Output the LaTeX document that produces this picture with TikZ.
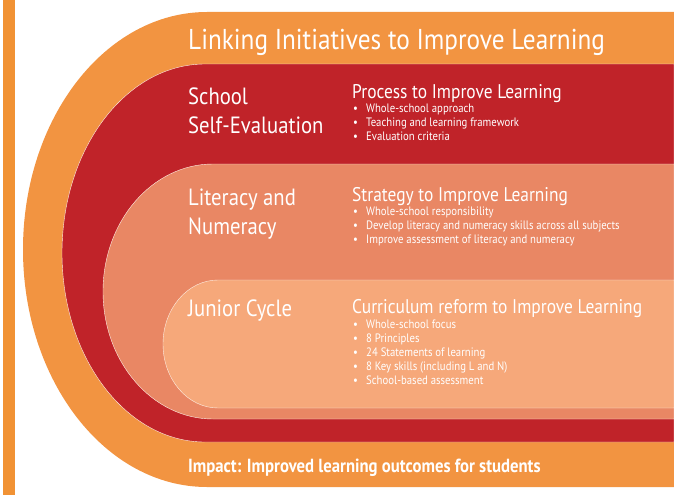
\documentclass[tikz,border=0pt]{standalone}
\usepackage{fontspec}
\setmainfont[FakeStretch=0.88]{PT Sans}
\usepackage{tikz}
\definecolor{ringorange}{RGB}{242,148,65}
\definecolor{stripe}{RGB}{241,146,52}
\definecolor{ringred}{RGB}{192,35,41}
\definecolor{ringsalmon}{RGB}{233,135,100}
\definecolor{ringpeach}{RGB}{246,168,122}
\tikzstyle{band} = [draw=white!80!ringpeach, line width=0.4pt]
\tikzstyle{bandtitle} = [anchor=base west, inner sep=0pt, text=white, font=\fontsize{28.7}{33}\selectfont]
\tikzstyle{bandname} = [anchor=base west, inner sep=0pt, text=white, align=left, font=\fontsize{23.5}{28.5}\selectfont]
\tikzstyle{heading} = [anchor=base west, inner sep=0pt, text=white, font=\fontsize{19.8}{22}\selectfont]
\tikzstyle{bullets} = [anchor=base west, inner sep=0pt, text=white, align=left, font=\fontsize{12.2}{14}\selectfont]
\tikzstyle{impact} = [anchor=base west, inner sep=0pt, text=white, font=\fontsize{19}{22}\selectfont\bfseries]
\newcommand{\blt}{\makebox[13pt][l]{\textbullet}}

\begin{document}
\begin{tikzpicture}[x=1pt, y=-1pt]

    \useasboundingbox (0,0) rectangle (674,495);

    % left stripe and the four bands
    \fill[stripe] (3,0) rectangle (15,495);

    \fill[ringorange] (674,12) -- (207,12) arc[start angle=270, end angle=90, x radius=184, y radius=237.5] -- (674,487) -- cycle;

    \filldraw[band, fill=ringred] (674,64) -- (205,64) arc[start angle=270, end angle=90, x radius=143, y radius=189] -- (674,442) -- cycle;

    \filldraw[band, fill=ringsalmon] (674,164) -- (213,164) arc[start angle=270, end angle=90, x radius=110, y radius=127.5] -- (674,419) -- cycle;

    \filldraw[band, fill=ringpeach] (674,280) -- (218,280) arc[start angle=270, end angle=90, x radius=55, y radius=64] -- (674,408) -- cycle;

    % texts (multi-line nodes sit on their last baseline)
    \node (title) [bandtitle] at (188,50) {Linking Initiatives to Improve Learning};

    \node (sse_name) [bandname] at (188,133) {School\\Self-Evaluation};

    \node (sse_head) [heading] at (352,98) {Process to Improve Learning};

    \node (sse_list) [bullets] at (353,140) {\blt Whole-school approach\\ \blt Teaching and learning framework\\ \blt Evaluation criteria};

    \node (lit_name) [bandname] at (188,234) {Literacy and\\Numeracy};

    \node (lit_head) [heading] at (352,201) {Strategy to Improve Learning};

    \node (lit_list) [bullets] at (353,243) {\blt Whole-school responsibility\\ \blt Develop literacy and numeracy skills across all subjects\\ \blt Improve assessment of literacy and numeracy};

    \node (jc_name) [bandname] at (188,316) {Junior Cycle};

    \node (jc_head) [heading] at (352,313) {Curriculum reform to Improve Learning};

    \node (jc_list) [bullets] at (353,384) {\blt Whole-school focus\\ \blt 8 Principles\\ \blt 24 Statements of learning\\ \blt 8 Key skills (including L and N)\\ \blt School-based assessment};

    \node (impact) [impact] at (188,472) {Impact: Improved learning outcomes for students};

\end{tikzpicture}
\end{document}
